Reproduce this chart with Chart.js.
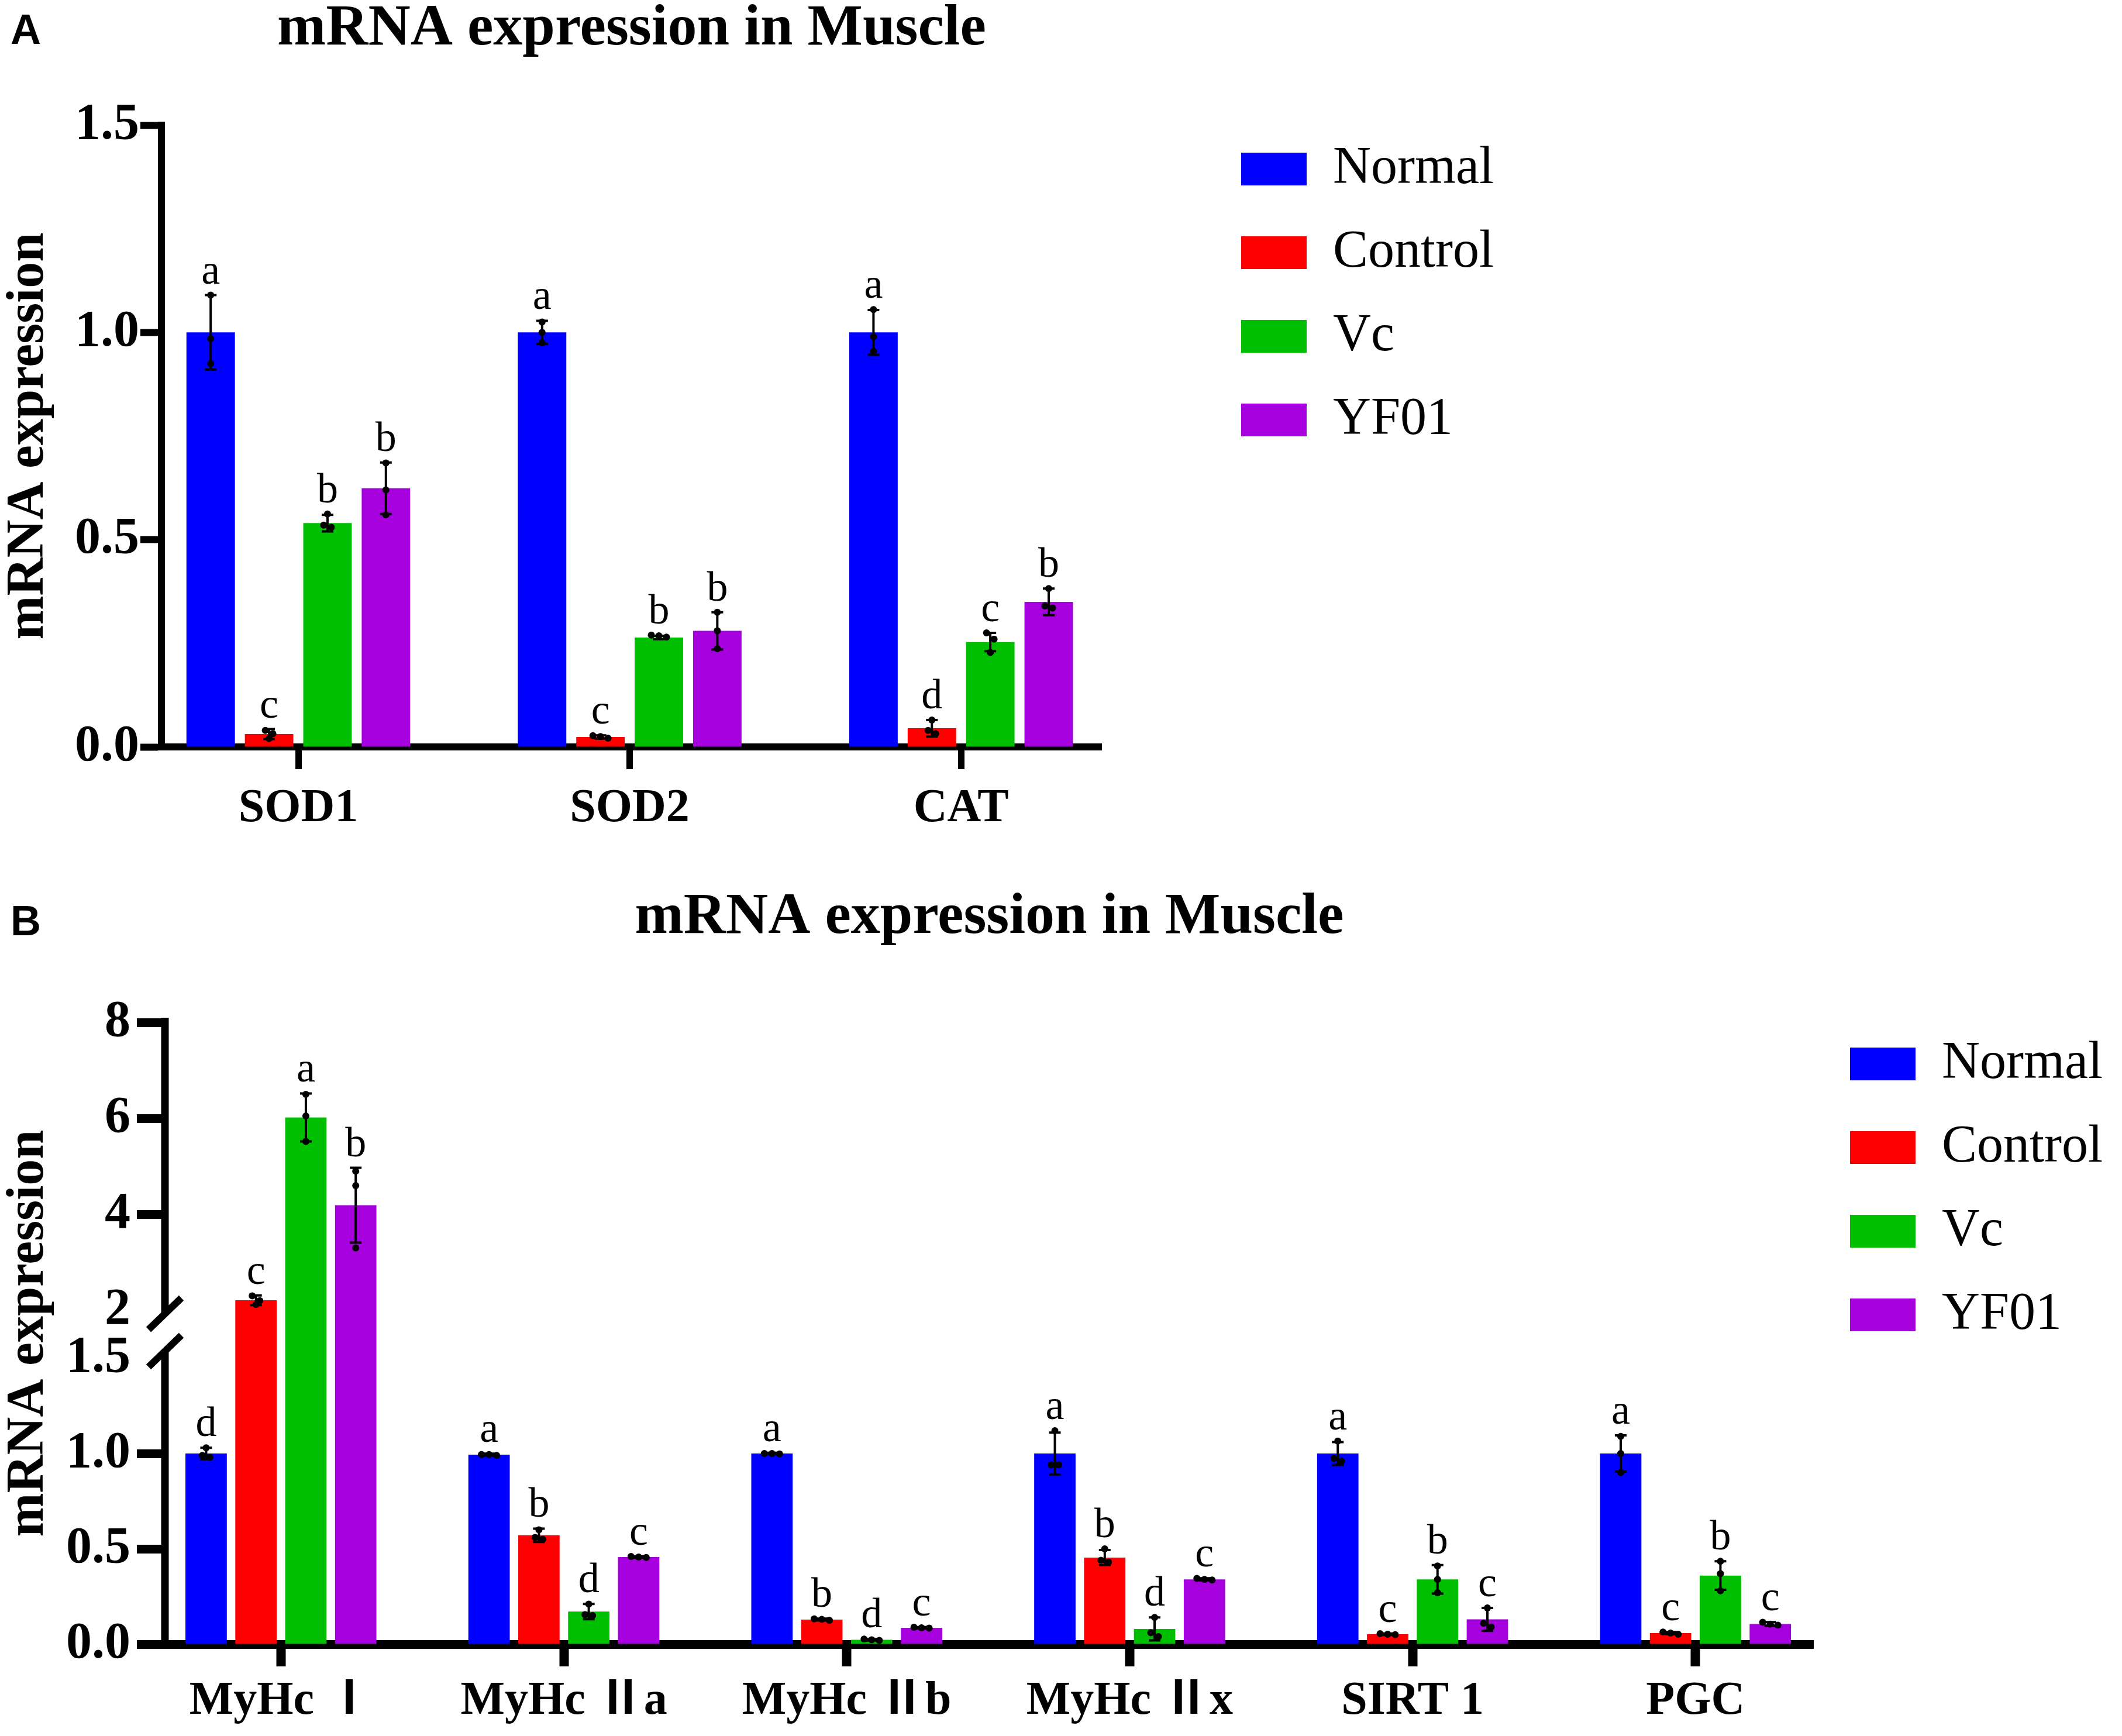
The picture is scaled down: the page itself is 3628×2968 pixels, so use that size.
<!DOCTYPE html>
<html>
<head>
<meta charset="utf-8">
<script src="https://cdn.jsdelivr.net/npm/chart.js@4"></script>
<style>
  html, body { margin: 0; padding: 0; background: #fff; width: 3628px; height: 2968px; overflow: hidden; }
  canvas { position: absolute; left: 0; }
  #chartA { top: 0; }
  #chartB { top: 1460px; }
  .panel-tag { position: absolute; left: 18px; font: bold 72px "Liberation Sans", Arial, sans-serif; line-height: 72px; color: #000; }
</style>
</head>
<body>
<div class="panel-tag" style="top:14px">A</div>
<div class="panel-tag" style="top:1538px">B</div>
<canvas id="chartA" width="2564" height="1440"></canvas>
<canvas id="chartB" width="3605" height="1508"></canvas>
<script>
const SERIF = '"Liberation Serif", "Times New Roman", "Noto Sans CJK SC", serif';

// groups shared by both panels
const groups = ['Normal', 'Control', 'Vc', 'YF01'];
const groupColors = ['#0000FF', '#FF0000', '#00BF00', '#A600DF'];

// ---------- Panel A: antioxidant genes ----------
const genesA = ['SOD1', 'SOD2', 'CAT'];
const yTicksA = [0, 0.5, 1.0, 1.5];
const yTickLabelsA = ['0.0', '0.5', '1.0', '1.5'];

const normalA = [1.0, 1.0, 1.0];
const controlA = [0.031, 0.024, 0.045];
const vcA = [0.540, 0.264, 0.253];
const yf01A = [0.624, 0.280, 0.350];

const normalSdA = [0.090, 0.028, 0.054];
const controlSdA = [0.012, 0.004, 0.020];
const vcSdA = [0.020, 0.004, 0.022];
const yf01SdA = [0.062, 0.045, 0.032];

// individual replicates (3 per bar)
const normalRepA = [[1.09, 0.985, 0.925], [1.025, 1.0, 0.975], [1.055, 0.99, 0.955]];
const controlRepA = [[0.040, 0.032, 0.020], [0.027, 0.025, 0.021], [0.065, 0.040, 0.032]];
const vcRepA = [[0.562, 0.535, 0.530], [0.270, 0.268, 0.265], [0.275, 0.260, 0.228]];
const yf01RepA = [[0.685, 0.620, 0.560], [0.325, 0.280, 0.237], [0.382, 0.340, 0.335]];

const normalLetA = ['a', 'a', 'a'];
const controlLetA = ['c', 'c', 'd'];
const vcLetA = ['b', 'b', 'c'];
const yf01LetA = ['b', 'b', 'b'];

// ---------- Panel B: fibre type / mitochondrial genes ----------
const genesB = ['MyHc \u2160', 'MyHc \u2161a', 'MyHc \u2161b', 'MyHc \u2161x', 'SIRT 1', 'PGC'];
const yTicksB = [0, 0.5, 1.0, 1.5, 2, 4, 6, 8];
const yTickLabelsB = ['0.0', '0.5', '1.0', '1.5', '2', '4', '6', '8'];

const normalB = [1.0, 0.994, 1.0, 1.0, 1.0, 1.0];
const controlB = [2.21, 0.571, 0.129, 0.454, 0.052, 0.058];
const vcB = [6.02, 0.171, 0.023, 0.080, 0.340, 0.360];
const yf01B = [4.19, 0.457, 0.086, 0.340, 0.130, 0.106];

const normalSdB = [0.030, 0.005, 0.004, 0.110, 0.060, 0.095];
const controlSdB = [0.100, 0.035, 0.005, 0.040, 0.004, 0.006];
const vcSdB = [0.500, 0.040, 0.004, 0.060, 0.075, 0.075];
const yf01SdB = [0.780, 0.004, 0.004, 0.006, 0.060, 0.010];

const normalRepB = [[1.03, 0.99, 0.98], [0.995, 0.995, 0.99], [1.0, 1.0, 0.998],
                    [1.12, 0.94, 0.94], [1.065, 0.975, 0.96], [1.09, 1.0, 0.90]];
const controlRepB = [[2.30, 2.20, 2.12], [0.60, 0.56, 0.55], [0.133, 0.130, 0.125],
                     [0.50, 0.44, 0.43], [0.055, 0.052, 0.050], [0.064, 0.058, 0.052]];
const vcRepB = [[6.50, 6.05, 5.52], [0.21, 0.155, 0.15], [0.027, 0.023, 0.020],
                [0.14, 0.06, 0.04], [0.41, 0.34, 0.27], [0.435, 0.37, 0.28]];
const yf01RepB = [[4.90, 4.60, 3.30], [0.46, 0.457, 0.455], [0.089, 0.086, 0.084],
                  [0.345, 0.340, 0.337], [0.19, 0.11, 0.09], [0.115, 0.105, 0.10]];

const normalLetB = ['d', 'a', 'a', 'a', 'a', 'a'];
const controlLetB = ['c', 'b', 'b', 'b', 'c', 'c'];
const vcLetB = ['a', 'd', 'd', 'd', 'b', 'b'];
const yf01LetB = ['b', 'c', 'c', 'c', 'c', 'c'];

// broken y axis of panel B: 0-1.5 and 2-8, with the break drawn between
const breakLow = 1.5;
const breakHigh = 2;
const breakLowFrac = 0.46;   // share of the axis height used by 0..1.5
const breakHighFrac = 0.537; // where 2 sits on the axis

/**
 * Linear scale with a gap between breakLow and breakHigh
 */
class BrokenScale extends Chart.LinearScale {
  _brokenDecimal(v) {
    if (v <= breakLow) return v / breakLow * breakLowFrac;
    if (v <= breakHigh) {
      return breakLowFrac + (v - breakLow) / (breakHigh - breakLow) * (breakHighFrac - breakLowFrac);
    }
    return breakHighFrac + (v - breakHigh) / (this.max - breakHigh) * (1 - breakHighFrac);
  }
  getPixelForValue(value) {
    return value === null ? NaN : this.getPixelForDecimal(this._brokenDecimal(value));
  }
  getValueForPixel(pixel) {
    const d = this.getDecimalForPixel(pixel);
    if (d <= breakLowFrac) return d / breakLowFrac * breakLow;
    if (d <= breakHighFrac) {
      return breakLow + (d - breakLowFrac) / (breakHighFrac - breakLowFrac) * (breakHigh - breakLow);
    }
    return breakHigh + (d - breakHighFrac) / (1 - breakHighFrac) * (this.max - breakHigh);
  }
}
BrokenScale.id = 'broken';
Chart.register(BrokenScale);

/**
 * Error bars (mean +/- SD), replicate dots and significance letters
 */
const errorDotsPlugin = {
  id: 'errorDots',
  afterDatasetsDraw(chart) {
    const ctx = chart.ctx;
    const yScale = chart.scales.y;
    chart.data.datasets.forEach((ds, di) => {
      const meta = chart.getDatasetMeta(di);
      meta.data.forEach((bar, i) => {
        const mean = ds.data[i].y;
        const sd = ds.sd[i];
        const x = bar.x;
        const yTop = yScale.getPixelForValue(mean + sd);
        const yBot = yScale.getPixelForValue(Math.max(mean - sd, 0));

        ctx.save();
        ctx.strokeStyle = '#000';
        ctx.fillStyle = '#000';
        ctx.lineWidth = 4;
        ctx.beginPath();
        ctx.moveTo(x, yTop);
        ctx.lineTo(x, yBot);
        ctx.moveTo(x - 10, yTop);
        ctx.lineTo(x + 10, yTop);
        ctx.moveTo(x - 10, yBot);
        ctx.lineTo(x + 10, yBot);
        ctx.stroke();

        // replicate dots, spread sideways when they sit on top of each other
        const py = ds.reps[i].map(v => yScale.getPixelForValue(v)).sort((a, b) => a - b);
        let k = 0;
        while (k < py.length) {
          let j = k;
          while (j + 1 < py.length && py[j + 1] - py[k] < 11) j++;
          const n = j - k + 1;
          for (let m = 0; m < n; m++) {
            ctx.beginPath();
            ctx.arc(x + (m - (n - 1) / 2) * 13, py[k + m], 6, 0, Math.PI * 2);
            ctx.fill();
          }
          k = j + 1;
        }

        // significance letter
        const top = Math.min(yTop, py[0]);
        ctx.font = '72px ' + SERIF;
        ctx.textAlign = 'center';
        ctx.textBaseline = 'alphabetic';
        ctx.fillText(ds.letters[i], x, top - 20);
        ctx.restore();
      });
    });
  }
};

/**
 * Y axis line of panel B with the two break marks
 */
const axisBreakPlugin = {
  id: 'axisBreak',
  afterDraw(chart) {
    const ctx = chart.ctx;
    const area = chart.chartArea;
    const y = chart.scales.y;
    const ax = area.left;
    const yLow = y.getPixelForValue(breakLow) - 12;
    const yHigh = y.getPixelForValue(breakHigh) + 6;
    ctx.save();
    ctx.strokeStyle = '#000';
    ctx.lineWidth = 13;
    ctx.beginPath();
    ctx.moveTo(ax, area.bottom + 7);
    ctx.lineTo(ax, yLow);
    ctx.moveTo(ax, yHigh);
    ctx.lineTo(ax, area.top - 8);
    ctx.stroke();
    ctx.lineWidth = 12;
    [yLow, yHigh].forEach(cy => {
      ctx.beginPath();
      ctx.moveTo(ax - 28, cy + 27);
      ctx.lineTo(ax + 28, cy - 27);
      ctx.stroke();
    });
    ctx.restore();
  }
};

function buildDatasets(means, sds, reps, letters) {
  return groups.map((name, g) => ({
    label: name,
    data: means[g].map((v, i) => ({ x: i, y: v })),
    backgroundColor: groupColors[g],
    borderWidth: 0,
    categoryPercentage: 0.705,
    barPercentage: 0.83,
    sd: sds[g],
    reps: reps[g],
    letters: letters[g]
  }));
}

function categoryAxis(labels, min, max, height, pad, lineW, tickW) {
  return {
    type: 'linear',
    min: min,
    max: max,
    offset: false,
    afterBuildTicks: s => { s.ticks = labels.map((_, i) => ({ value: i })); },
    afterFit: s => { s.height = height; },
    ticks: {
      callback: v => labels[v],
      autoSkip: false,
      maxRotation: 0,
      padding: pad,
      color: '#000',
      font: { family: SERIF, size: 80, weight: 'bold', lineHeight: 1.2 }
    },
    grid: { drawOnChartArea: false, drawTicks: true, tickLength: 38, tickWidth: tickW, tickColor: '#000', offset: false },
    border: { display: true, color: '#000', width: lineW }
  };
}

function gapAxis(width) {
  return {
    type: 'linear',
    position: 'right',
    grid: { display: false, drawTicks: false },
    border: { display: false },
    ticks: { display: false },
    afterFit: s => { s.width = width; }
  };
}

function titleOpts(padTop, padBottom) {
  return {
    display: true,
    text: 'mRNA expression in Muscle',
    color: '#000',
    fullSize: false,
    padding: { top: padTop, bottom: padBottom },
    font: { family: SERIF, size: 100, weight: 'bold', lineHeight: 1 }
  };
}

function legendOpts(offsetTop) {
  return {
    position: 'right',
    align: 'start',
    maxWidth: 1000,
    title: { display: true, text: '', padding: { top: offsetTop, bottom: 0 }, font: { size: 1, lineHeight: 1 } },
    labels: {
      boxWidth: 112,
      boxHeight: 56,
      padding: 53,
      color: '#000',
      font: { family: SERIF, size: 90 }
    }
  };
}

const yTitle = {
  display: true,
  text: 'mRNA expression',
  color: '#000',
  padding: { top: 5, bottom: 0 },
  font: { family: SERIF, size: 90, weight: 'bold', lineHeight: 1 }
};

new Chart(document.getElementById('chartA'), {
  type: 'bar',
  data: {
    datasets: buildDatasets(
      [normalA, controlA, vcA, yf01A],
      [normalSdA, controlSdA, vcSdA, yf01SdA],
      [normalRepA, controlRepA, vcRepA, yf01RepA],
      [normalLetA, controlLetA, vcLetA, yf01LetA]
    )
  },
  options: {
    responsive: false,
    animation: false,
    devicePixelRatio: 1,
    events: [],
    layout: { padding: 0 },
    plugins: {
      title: titleOpts(0, 114),
      legend: legendOpts(190),
      tooltip: { enabled: false }
    },
    scales: {
      x: categoryAxis(genesA, -0.413, 2.425, 163, 20, 12, 11),
      y: {
        min: 0,
        max: 1.5,
        afterBuildTicks: s => { s.ticks = yTicksA.map(v => ({ value: v })); },
        afterFit: s => { s.width = 276; },
        ticks: { callback: (v, i) => yTickLabelsA[i], padding: 2, color: '#000',
                 font: { family: SERIF, size: 88, weight: 'bold' } },
        grid: { drawOnChartArea: false, drawTicks: true, tickLength: 36, tickWidth: 12, tickColor: '#000' },
        border: { display: true, color: '#000', width: 12 },
        title: yTitle
      },
      gap: gapAxis(185)
    }
  },
  plugins: [errorDotsPlugin]
});

new Chart(document.getElementById('chartB'), {
  type: 'bar',
  data: {
    datasets: buildDatasets(
      [normalB, controlB, vcB, yf01B],
      [normalSdB, controlSdB, vcSdB, yf01SdB],
      [normalRepB, controlRepB, vcRepB, yf01RepB],
      [normalLetB, controlLetB, vcLetB, yf01LetB]
    )
  },
  options: {
    responsive: false,
    animation: false,
    devicePixelRatio: 1,
    events: [],
    layout: { padding: 0 },
    plugins: {
      title: titleOpts(59, 129),
      legend: legendOpts(260),
      tooltip: { enabled: false }
    },
    scales: {
      x: categoryAxis(genesB, -0.41, 5.418, 157, 12, 15, 16),
      y: {
        type: 'broken',
        min: 0,
        max: 8,
        afterBuildTicks: s => { s.ticks = yTicksB.map(v => ({ value: v })); },
        afterFit: s => { s.width = 282; },
        ticks: { callback: (v, i) => yTickLabelsB[i], padding: 11, color: '#000',
                 font: { family: SERIF, size: 88, weight: 'bold' } },
        grid: {
          drawOnChartArea: false,
          drawTicks: true,
          tickLength: 48,
          tickWidth: 15,
          // no tick marks at the break itself
          tickColor: c => (c.tick && (c.tick.value === breakLow || c.tick.value === breakHigh)) ? 'rgba(0,0,0,0)' : '#000'
        },
        border: { display: false },
        title: yTitle
      },
      gap: gapAxis(9)
    }
  },
  plugins: [errorDotsPlugin, axisBreakPlugin]
});
</script>
</body>
</html>
